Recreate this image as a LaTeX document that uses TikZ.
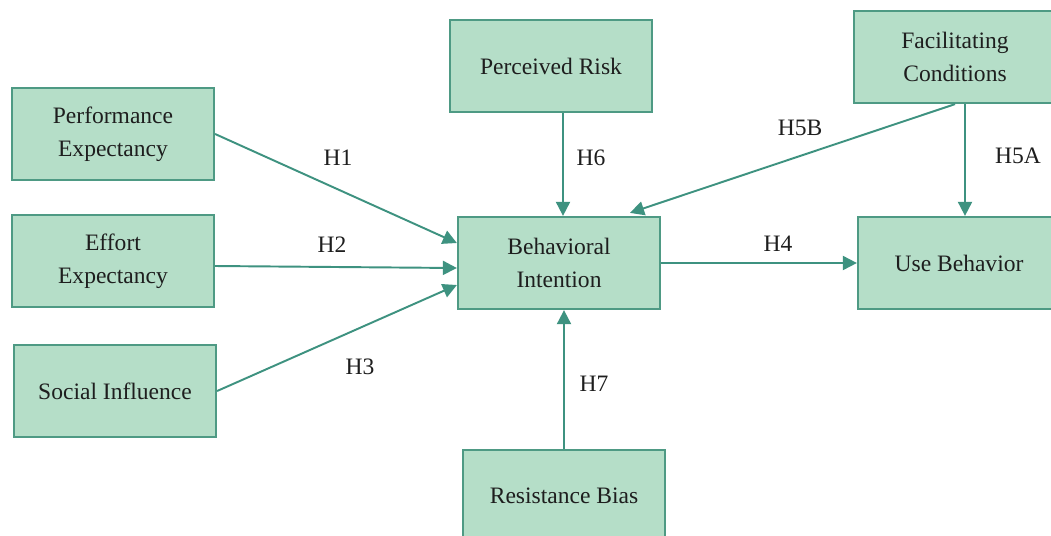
\documentclass[tikz,border=0pt]{standalone}
\usepackage{fontspec}
\setmainfont{Liberation Serif}
\usetikzlibrary{arrows.meta,calc}
\definecolor{boxfill}{HTML}{B5DEC8}
\definecolor{boxline}{HTML}{4E9A84}
\definecolor{arrcol}{HTML}{3E9280}
\definecolor{txtcol}{HTML}{1E1E1E}
\tikzset{
	construct/.style={draw=boxline, fill=boxfill, line width=1.3pt, minimum width=4.04cm,
		minimum height=1.84cm, align=center, text=txtcol, font=\fontsize{13.4}{19}\selectfont},
	arr/.style={draw=arrcol, line width=1.1pt, -{Triangle[length=8pt,width=8pt]}},
	hyp/.style={text=txtcol, font=\fontsize{13.4}{16}\selectfont}
}
\begin{document}
\begin{tikzpicture}[x=0.02cm, y=-0.02cm]
	\clip (0,0) rectangle (1051,535);
	\fill[white] (0,0) rectangle (1051,535);
	
	% exogenous constructs
	\node[construct] (pe) at (113,134) {Performance\\Expectancy};
	\node[construct] (ee) at (113,261) {Effort\\Expectancy};
	\node[construct] (si) at (115,391) {Social Influence};
	\node[construct] (pr) at (551,66) {Perceived Risk};
	\node[construct] (fc) at (955,57) {Facilitating\\Conditions};
	\node[construct] (rb) at (564,496) {Resistance Bias};
	
	% endogenous constructs
	\node[construct] (bi) at (559,263) {Behavioral\\Intention};
	\node[construct] (ub) at (959,263) {Use Behavior};
	
	% paths
	\draw[arr] (pe.east) -- ($(bi.west)+(0,-20)$);
	\draw[arr] ($(ee.east)+(0,5)$) -- ($(bi.west)+(0,5)$);
	\draw[arr] (si.east) -- ($(bi.west)+(0,22)$);
	\draw[arr] ($(pr.south)+(12,0)$) -- ($(bi.north)+(4,0)$);
	\draw[arr] ($(fc.south)+(0,0)$) -- ($(bi.north)+(71,-3)$);
	\draw[arr] ($(fc.south)+(10,0)$) -- ($(ub.north)+(6,0)$);
	\draw[arr] (bi.east) -- (ub.west);
	\draw[arr] (rb.north) -- (rb.north |- bi.south);
	
	% hypotheses
	\node[hyp] (h1) at (338,158) {H1};
	\node[hyp] (h2) at (332,245) {H2};
	\node[hyp] (h3) at (360,367) {H3};
	\node[hyp] (h4) at (778,244) {H4};
	\node[hyp] (h5a) at (1018,156) {H5A};
	\node[hyp] (h5b) at (800,128) {H5B};
	\node[hyp] (h6) at (591,158) {H6};
	\node[hyp] (h7) at (594,384) {H7};
\end{tikzpicture}
\end{document}
